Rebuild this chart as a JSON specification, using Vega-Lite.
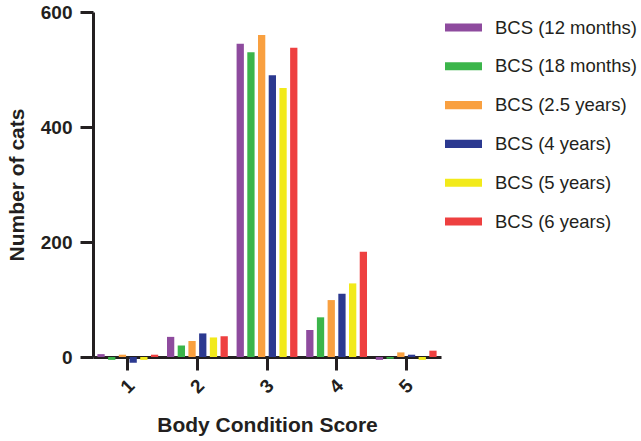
{
  "$schema": "https://vega.github.io/schema/vega-lite/v6.json",
  "autosize": "none",
  "width": 348,
  "height": 345,
  "padding": {"left": 93, "top": 12, "right": 200, "bottom": 84},
  "background": "white",
  "config": {"view": {"stroke": null}, "font": "Liberation Sans"},
  "data": {"values": [
    {"score": "1", "period": "BCS (12 months)", "cats": 5},
    {"score": "1", "period": "BCS (18 months)", "cats": -5},
    {"score": "1", "period": "BCS (2.5 years)", "cats": 4},
    {"score": "1", "period": "BCS (4 years)", "cats": -10},
    {"score": "1", "period": "BCS (5 years)", "cats": -5},
    {"score": "1", "period": "BCS (6 years)", "cats": 4},
    {"score": "2", "period": "BCS (12 months)", "cats": 35},
    {"score": "2", "period": "BCS (18 months)", "cats": 20},
    {"score": "2", "period": "BCS (2.5 years)", "cats": 28},
    {"score": "2", "period": "BCS (4 years)", "cats": 41},
    {"score": "2", "period": "BCS (5 years)", "cats": 34},
    {"score": "2", "period": "BCS (6 years)", "cats": 36},
    {"score": "3", "period": "BCS (12 months)", "cats": 545},
    {"score": "3", "period": "BCS (18 months)", "cats": 530},
    {"score": "3", "period": "BCS (2.5 years)", "cats": 560},
    {"score": "3", "period": "BCS (4 years)", "cats": 490},
    {"score": "3", "period": "BCS (5 years)", "cats": 468},
    {"score": "3", "period": "BCS (6 years)", "cats": 538},
    {"score": "4", "period": "BCS (12 months)", "cats": 47},
    {"score": "4", "period": "BCS (18 months)", "cats": 69},
    {"score": "4", "period": "BCS (2.5 years)", "cats": 99},
    {"score": "4", "period": "BCS (4 years)", "cats": 110},
    {"score": "4", "period": "BCS (5 years)", "cats": 128},
    {"score": "4", "period": "BCS (6 years)", "cats": 183},
    {"score": "5", "period": "BCS (12 months)", "cats": -5},
    {"score": "5", "period": "BCS (18 months)", "cats": -3},
    {"score": "5", "period": "BCS (2.5 years)", "cats": 8},
    {"score": "5", "period": "BCS (4 years)", "cats": 4},
    {"score": "5", "period": "BCS (5 years)", "cats": -5},
    {"score": "5", "period": "BCS (6 years)", "cats": 11}
  ]},
  "mark": {"type": "bar"},
  "encoding": {
    "x": {
      "field": "score", "type": "nominal",
      "scale": {"paddingInner": 0, "paddingOuter": 0},
      "axis": {
        "title": "Body Condition Score",
        "titleFont": "Liberation Sans", "titleFontSize": 21, "titleFontWeight": "bold", "titleColor": "#231F20",
        "titlePadding": 18,
        "labelAngle": -45, "labelAlign": "center", "labelBaseline": "middle", "labelPadding": 16,
        "labelFontSize": 19, "labelFontWeight": "bold", "labelColor": "#231F20",
        "domainColor": "#231F20", "domainWidth": 3, "tickColor": "#231F20", "tickWidth": 3, "tickSize": 13
      }
    },
    "xOffset": {
      "field": "period", "type": "nominal",
      "scale": {"paddingInner": 0.32, "paddingOuter": 0.41},
      "sort": ["BCS (12 months)", "BCS (18 months)", "BCS (2.5 years)", "BCS (4 years)", "BCS (5 years)", "BCS (6 years)"]
    },
    "y": {
      "field": "cats", "type": "quantitative",
      "scale": {"domain": [0, 600], "nice": false, "zero": false},
      "axis": {
        "title": "Number of cats", "values": [0, 200, 400, 600], "grid": false,
        "titleFont": "Liberation Sans", "titleFontSize": 21, "titleFontWeight": "bold", "titleColor": "#231F20",
        "titlePadding": 13,
        "labelFontSize": 19, "labelFontWeight": "bold", "labelColor": "#231F20", "labelPadding": 8,
        "domainColor": "#231F20", "domainWidth": 3, "tickColor": "#231F20", "tickWidth": 3, "tickSize": 13
      }
    },
    "color": {
      "field": "period", "type": "nominal",
      "scale": {
        "domain": ["BCS (12 months)", "BCS (18 months)", "BCS (2.5 years)", "BCS (4 years)", "BCS (5 years)", "BCS (6 years)"],
        "range": ["#8E4B9E", "#3BB54A", "#F9A040", "#2B3990", "#F2EA1A", "#EE4040"]
      },
      "legend": {
        "title": null, "orient": "none", "legendX": 352, "legendY": -3,
        "symbolType": "M-1,-0.22H1V0.22H-1Z", "symbolSize": 1369, "symbolStrokeWidth": 0,
        "labelFont": "Liberation Sans", "labelFontSize": 18.5, "labelColor": "#231F20", "labelOffset": 13,
        "rowPadding": 10.8, "labelLimit": 300
      }
    }
  }
}
